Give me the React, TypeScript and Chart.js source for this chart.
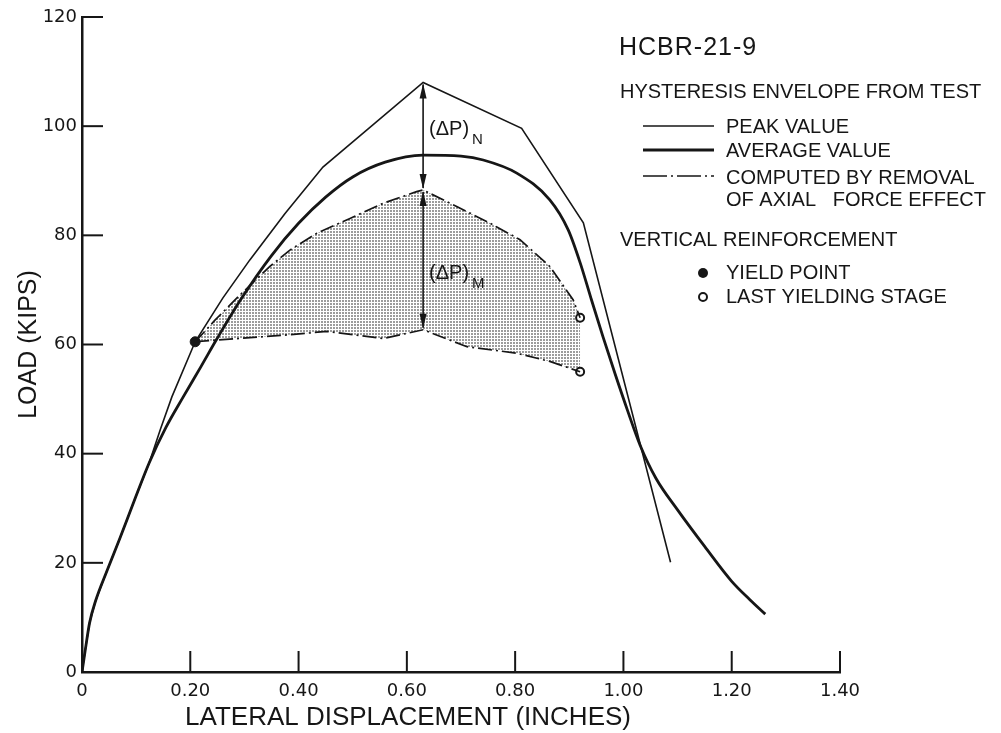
import React, { useEffect, useRef } from 'react';
import { Chart, registerables } from 'chart.js';

Chart.register(...registerables);

// ---------- data ----------
const peakX = [0, 0.006, 0.014, 0.025, 0.046, 0.07, 0.097, 0.124, 0.145, 0.166, 0.209, 0.26, 0.31, 0.375, 0.445, 0.63, 0.812, 0.926, 1.087];
const peakY = [0, 4, 9, 13, 18.5, 24.5, 31.5, 38.3, 44.5, 50.4, 60.5, 68.5, 75.5, 84, 92.5, 108, 99.6, 82.3, 20.1];

const avgX = [0, 0.006, 0.014, 0.025, 0.046, 0.07, 0.097, 0.124, 0.155, 0.187, 0.22, 0.249, 0.295, 0.35, 0.4, 0.45, 0.5, 0.56, 0.63, 0.7, 0.741, 0.803, 0.864, 0.898, 0.92, 0.94, 0.962, 0.985, 1.008, 1.031, 1.06, 1.1, 1.15, 1.2, 1.234, 1.262];
const avgY = [0, 4, 9, 13, 18.5, 24.5, 31.5, 38.3, 44.8, 50.4, 56, 61, 68.5, 76.3, 82.2, 87, 90.7, 93.4, 94.7, 94.5, 93.8, 91.4, 86.5, 81, 75, 68.5, 61.5, 54.5, 47.8, 41.5, 35.5, 29.7, 23, 16.6, 13.2, 10.6];

const compUpperX = [0.209, 0.246, 0.292, 0.347, 0.384, 0.434, 0.495, 0.557, 0.618, 0.63, 0.692, 0.754, 0.809, 0.864, 0.907, 0.92];
const compUpperY = [60.5, 64.5, 69.1, 74.3, 77.3, 80.4, 83.1, 85.9, 88.0, 88.3, 85.3, 82.2, 79.2, 74.3, 68.2, 64.9];

const compLowerX = [0.209, 0.249, 0.372, 0.452, 0.557, 0.63, 0.711, 0.803, 0.864, 0.92];
const compLowerY = [60.5, 60.8, 61.7, 62.4, 61.1, 62.7, 59.6, 58.4, 56.9, 55.0];

const yieldX = [0.209];
const yieldY = [60.5];
const lastYieldX = [0.92, 0.92];
const lastYieldY = [64.9, 55.0];

// (ΔP) arrows at the peak displacement: peak -> computed peak -> computed lower
const arrowX = 0.63;
const arrowLevels = [108, 88.3, 62.7];

const xTickLabels = ['0', '0.20', '0.40', '0.60', '0.80', '1.00', '1.20', '1.40'];
const yTickLabels = ['0', '20', '40', '60', '80', '100', '120'];

const X_TITLE = 'LATERAL DISPLACEMENT (INCHES)';
const Y_TITLE = 'LOAD (KIPS)';
const SPECIMEN = 'HCBR-21-9';
const ENVELOPE_HEADING = 'HYSTERESIS ENVELOPE FROM TEST';
const PEAK_LABEL = 'PEAK VALUE';
const AVG_LABEL = 'AVERAGE VALUE';
const COMPUTED_LABEL_1 = 'COMPUTED BY REMOVAL';
const COMPUTED_LABEL_2 = 'OF AXIAL   FORCE EFFECT';
const REINF_HEADING = 'VERTICAL REINFORCEMENT';
const YIELD_LABEL = 'YIELD POINT';
const LAST_YIELD_LABEL = 'LAST YIELDING STAGE';
const DELTA_LABEL = '(ΔP)';
const DELTA_SUBS = ['N', 'M'];

// ---------- styles ----------
const INK = '#161616';
const SANS = "'Liberation Sans', Arial, sans-serif";
const DEJAVU = "'DejaVu Sans', sans-serif";
const DASH_DOT = [14, 4, 2, 4];

const zip = (xs: number[], ys: number[]) => xs.map((x, i) => ({ x, y: ys[i] }));

export default function App() {
  const ref = useRef<HTMLCanvasElement>(null);

  useEffect(() => {
    const canvas = ref.current;
    if (!canvas) return;

    // stipple pattern for the shaded zone
    const pc = document.createElement('canvas');
    pc.width = 3;
    pc.height = 3;
    const pctx = pc.getContext('2d')!;
    pctx.fillStyle = '#9c9c9c';
    pctx.fillRect(0, 0, 2, 2);
    const pattern = canvas.getContext('2d')!.createPattern(pc, 'repeat');

    const overlay = {
      id: 'overlay',
      afterDraw(chart: any) {
        const ctx: CanvasRenderingContext2D = chart.ctx;
        const xs = chart.scales.x;
        const ys = chart.scales.y;
        ctx.save();
        ctx.strokeStyle = INK;
        ctx.fillStyle = INK;

        // inward tick marks
        ctx.lineWidth = 2;
        xs.ticks.forEach((_t: any, i: number) => {
          if (i === 0) return;
          const px = xs.getPixelForTick(i);
          ctx.beginPath();
          ctx.moveTo(px, ys.bottom);
          ctx.lineTo(px, ys.bottom - 21);
          ctx.stroke();
        });
        ys.ticks.forEach((_t: any, i: number) => {
          if (i === 0) return;
          const py = ys.getPixelForTick(i);
          ctx.beginPath();
          ctx.moveTo(xs.left, py);
          ctx.lineTo(xs.left + 21, py);
          ctx.stroke();
        });

        // x axis title
        ctx.font = `26px ${SANS}`;
        ctx.textAlign = 'center';
        ctx.textBaseline = 'middle';
        ctx.fillText(X_TITLE, 408, 718);

        // (ΔP) arrows
        const ax = xs.getPixelForValue(arrowX);
        const head = (tipY: number, dir: number) => {
          ctx.beginPath();
          ctx.moveTo(ax, tipY);
          ctx.lineTo(ax - 3.5, tipY + dir * 15);
          ctx.lineTo(ax + 3.5, tipY + dir * 15);
          ctx.closePath();
          ctx.fill();
        };
        ctx.lineWidth = 1.6;
        for (let k = 0; k < arrowLevels.length - 1; k++) {
          const y1 = ys.getPixelForValue(arrowLevels[k]);
          const y2 = ys.getPixelForValue(arrowLevels[k + 1]);
          ctx.beginPath();
          ctx.moveTo(ax, y1 + 2);
          ctx.lineTo(ax, y2 - 2);
          ctx.stroke();
          head(y1 + 1, 1);
          head(y2 - 1, -1);
        }

        // (ΔP) labels, placed between the arrow levels
        ctx.textAlign = 'left';
        ctx.textBaseline = 'middle';
        DELTA_SUBS.forEach((sub, k) => {
          const lvl = k === 0 ? (arrowLevels[0] + arrowLevels[1]) / 2 + 1.2 : (arrowLevels[1] + arrowLevels[2]) / 2 - 2.5;
          const lx = ax + 6;
          const ly = ys.getPixelForValue(lvl);
          ctx.font = `20px ${SANS}`;
          ctx.fillText(DELTA_LABEL, lx, ly);
          const w = ctx.measureText(DELTA_LABEL).width;
          ctx.font = `15px ${SANS}`;
          ctx.fillText(sub, lx + w + 3, ly + 10);
        });

        // legend block
        ctx.textAlign = 'left';
        ctx.textBaseline = 'middle';
        (ctx as any).letterSpacing = '1px';
        ctx.font = `25px ${SANS}`;
        ctx.fillText(SPECIMEN, 619, 48);
        (ctx as any).letterSpacing = '0px';
        ctx.font = `20px ${SANS}`;
        ctx.fillText(ENVELOPE_HEADING, 620, 92);
        ctx.fillText(PEAK_LABEL, 726, 127);
        ctx.fillText(AVG_LABEL, 726, 151);
        ctx.fillText(COMPUTED_LABEL_1, 726, 178);
        ctx.fillText(COMPUTED_LABEL_2, 726, 200);
        ctx.fillText(REINF_HEADING, 620, 240);
        ctx.fillText(YIELD_LABEL, 726, 273);
        ctx.fillText(LAST_YIELD_LABEL, 726, 297);

        const legLine = (y: number, w: number, dash: number[]) => {
          ctx.lineWidth = w;
          ctx.setLineDash(dash);
          ctx.beginPath();
          ctx.moveTo(643, y);
          ctx.lineTo(714, y);
          ctx.stroke();
          ctx.setLineDash([]);
        };
        legLine(126, 1.5, []);
        legLine(150, 2.8, []);
        legLine(176, 1.6, [24, 4, 2, 4]);

        ctx.beginPath();
        ctx.arc(703, 273, 5, 0, Math.PI * 2);
        ctx.fill();
        ctx.lineWidth = 2;
        ctx.beginPath();
        ctx.arc(703, 297, 4, 0, Math.PI * 2);
        ctx.stroke();

        ctx.restore();
      },
    };

    const chart = new Chart(canvas, {
      type: 'line',
      data: {
        datasets: [
          {
            label: PEAK_LABEL,
            data: zip(peakX, peakY),
            borderColor: INK,
            borderWidth: 1.6,
            pointRadius: 0,
            tension: 0,
            fill: false,
          },
          {
            label: AVG_LABEL,
            data: zip(avgX, avgY),
            borderColor: INK,
            borderWidth: 2.8,
            pointRadius: 0,
            tension: 0.4,
            cubicInterpolationMode: 'monotone',
            fill: false,
          },
          {
            label: COMPUTED_LABEL_1 + ' (upper)',
            data: zip(compUpperX, compUpperY),
            borderColor: INK,
            borderWidth: 1.7,
            borderDash: DASH_DOT,
            pointRadius: 0,
            tension: 0,
            fill: { target: 3 },
            backgroundColor: pattern as any,
          },
          {
            label: COMPUTED_LABEL_1 + ' (lower)',
            data: zip(compLowerX, compLowerY),
            borderColor: INK,
            borderWidth: 1.7,
            borderDash: DASH_DOT,
            pointRadius: 0,
            tension: 0,
            fill: false,
          },
          {
            label: YIELD_LABEL,
            data: zip(yieldX, yieldY),
            showLine: false,
            pointRadius: 5,
            pointBackgroundColor: INK,
            pointBorderColor: INK,
            pointBorderWidth: 1,
          },
          {
            label: LAST_YIELD_LABEL,
            data: zip(lastYieldX, lastYieldY),
            showLine: false,
            pointRadius: 4,
            pointBackgroundColor: '#ffffff',
            pointBorderColor: INK,
            pointBorderWidth: 2,
          },
        ],
      },
      options: {
        responsive: false,
        animation: false,
        events: [],
        layout: { padding: { left: 0, top: 17, right: 161, bottom: 0 } },
        plugins: {
          legend: { display: false },
          tooltip: { enabled: false },
          filler: { drawTime: 'beforeDatasetsDraw' },
        } as any,
        scales: {
          x: {
            type: 'linear',
            min: 0,
            max: 1.4,
            ticks: {
              stepSize: 0.2,
              autoSkip: false,
              maxRotation: 0,
              padding: 9,
              color: INK,
              font: { family: DEJAVU, size: 18 },
              callback: (_v: any, i: number) => xTickLabels[i] ?? '',
            },
            grid: { display: false, drawTicks: false },
            border: { display: true, color: INK, width: 2.5 },
            afterFit: (s: any) => {
              s.height = 61;
            },
          },
          y: {
            type: 'linear',
            min: 0,
            max: 120,
            ticks: {
              stepSize: 20,
              padding: 5,
              color: INK,
              font: { family: DEJAVU, size: 18 },
              callback: (_v: any, i: number) => yTickLabels[i] ?? '',
            },
            grid: { display: false, drawTicks: false },
            border: { display: true, color: INK, width: 2.5 },
            title: {
              display: true,
              text: Y_TITLE,
              color: INK,
              font: { family: SANS, size: 25 },
              padding: { top: 14, bottom: 0 },
            },
            afterFit: (s: any) => {
              s.width = 82;
            },
          },
        },
      } as any,
      plugins: [overlay],
    });

    return () => chart.destroy();
  }, []);

  return (
    <div style={{ position: 'fixed', left: 0, top: 0, width: 1001, height: 733, background: '#ffffff' }}>
      <canvas ref={ref} width={1001} height={733} style={{ display: 'block', width: 1001, height: 733 }} />
    </div>
  );
}
